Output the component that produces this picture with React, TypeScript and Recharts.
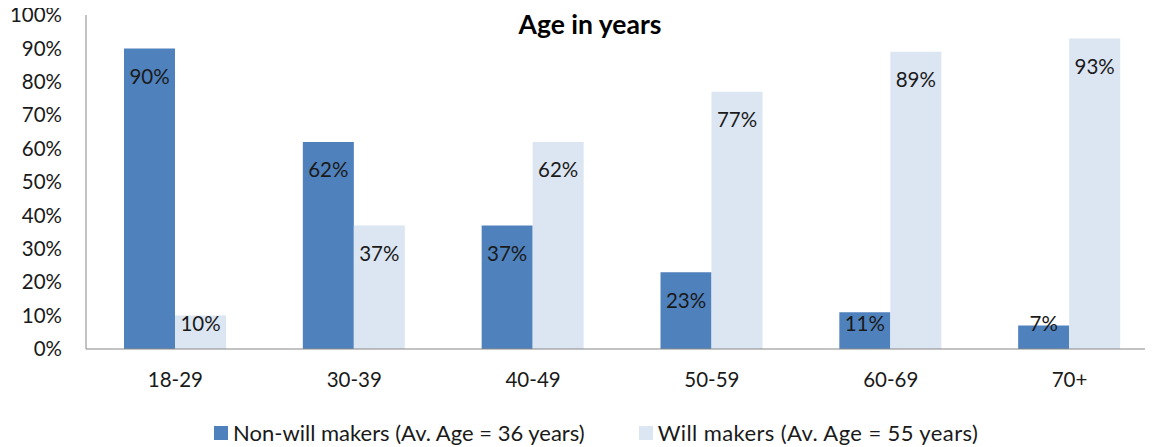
import { BarChart, Bar, XAxis, YAxis, LabelList } from "recharts";

const ageGroups = ["18-29", "30-39", "40-49", "50-59", "60-69", "70+"];
const nonWillMakers = [90, 62, 37, 23, 11, 7];
const willMakers = [10, 37, 62, 77, 89, 93];
const yTicks = [0, 10, 20, 30, 40, 50, 60, 70, 80, 90, 100];

const seriesNames = {
  nonWill: "Non-will makers (Av. Age = 36 years)",
  will: "Will makers (Av. Age = 55 years)",
};

const DARK = "#4f81bd";
const LIGHT = "#dce6f2";
const AXIS = "#868686";
const INK = "#1a1a1a";
const FONT = "Lato, 'Open Sans', sans-serif";

const data = ageGroups.map((group, i) => ({
  group,
  nonWill: nonWillMakers[i],
  will: willMakers[i],
}));

// value labels sit near the top of each bar, but never lower than the baseline band
const renderValue = (props: any) => {
  const { x, y, width, height, value } = props;
  const cy = Math.min(y + 28, y + height - 25);
  return (
    <text
      x={x + width / 2}
      y={cy}
      dy="0.36em"
      textAnchor="middle"
      fontSize={20.5}
      fontFamily={FONT}
      fill={INK}
    >
      {value}%
    </text>
  );
};

export default function App() {
  return (
    <div
      style={{
        position: "relative",
        width: 1159,
        height: 447,
        margin: "-8px 0 0 -8px",
        fontFamily: FONT,
        overflow: "hidden",
      }}
    >
      <BarChart
        width={1159}
        height={447}
        data={data}
        margin={{ top: 15, right: 0, left: 0, bottom: 68 }}
        barGap={0}
      >
        <XAxis
          dataKey="group"
          height={30}
          stroke={AXIS}
          tickLine={false}
          tickSize={0}
          tickMargin={23}
          tick={{ fill: INK, fontSize: 20.5, fontFamily: FONT }}
        />
        <YAxis
          width={86}
          domain={[0, 100]}
          ticks={yTicks}
          interval={0}
          stroke={AXIS}
          tickLine={false}
          tickSize={0}
          tickMargin={24}
          tickFormatter={(v) => `${v}%`}
          tick={{ fill: INK, fontSize: 20.5, fontFamily: FONT }}
        />
        <Bar dataKey="nonWill" name={seriesNames.nonWill} fill={DARK} barSize={51} isAnimationActive={false}>
          <LabelList dataKey="nonWill" content={renderValue} />
        </Bar>
        <Bar dataKey="will" name={seriesNames.will} fill={LIGHT} barSize={51} isAnimationActive={false}>
          <LabelList dataKey="will" content={renderValue} />
        </Bar>
        <text
          x={590}
          y={34}
          textAnchor="middle"
          fontSize={26.5}
          fontWeight="bold"
          fontFamily={FONT}
          fill="#000"
        >
          Age in years
        </text>
      </BarChart>
      <div
        style={{
          position: "absolute",
          top: 419,
          left: 214,
          display: "flex",
          alignItems: "center",
          fontSize: 22,
          color: INK,
          whiteSpace: "nowrap",
        }}
      >
        <span style={{ width: 14, height: 14, background: DARK, marginRight: 5 }} />
        <span style={{ marginRight: 54 }}>{seriesNames.nonWill}</span>
        <span style={{ width: 14, height: 14, background: LIGHT, marginRight: 5 }} />
        <span style={{ letterSpacing: 0.4 }}>{seriesNames.will}</span>
      </div>
    </div>
  );
}
